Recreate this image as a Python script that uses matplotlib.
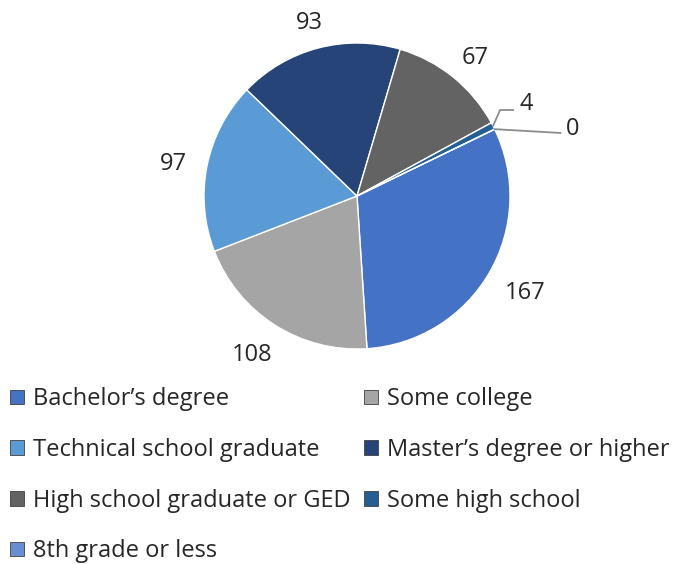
import numpy as np
import matplotlib.pyplot as plt

categories = ["Bachelor\u2019s degree", "Some college", "Technical school graduate",
              "Master\u2019s degree or higher", "High school graduate or GED",
              "Some high school", "8th grade or less"]
counts = [167, 108, 97, 93, 67, 4, 0]
colors = ["#4472C4", "#A5A5A5", "#5B9BD5", "#264478", "#636363", "#255E91", "#698ED0"]

plt.rcParams['font.family'] = ['Open Sans', 'DejaVu Sans']

fig = plt.figure(figsize=(6.76, 5.64), dpi=100)
ax = fig.add_axes([0, 0, 1, 1])

R = 153.0  # pie radius in pixels
cx, cy = 357.0, 196.0

wedges, _ = ax.pie(counts, colors=colors, startangle=25.9, counterclock=False,
                   radius=1.0, center=(0, 0),
                   wedgeprops=dict(edgecolor="white", linewidth=1.0))

ax.set_xlim(-cx / R, (676 - cx) / R)
ax.set_ylim(-(564 - cy) / R, cy / R)
ax.set_aspect("equal")
ax.axis("off")

lab_fs = 17
txt_col = "#262626"
# labels for the larger slices, "outside end"
gap = 0.14
for w, v in zip(wedges[:5], counts[:5]):
    mid = np.deg2rad((w.theta1 + w.theta2) / 2)
    ux, uy = np.cos(mid), np.sin(mid)
    half_w = 0.043 * len(str(v))
    half_h = 0.06
    ax.text(ux * (1 + gap) + ux * half_w, uy * (1 + gap) + uy * half_h - 0.03, str(v),
            ha="center", va="center", fontsize=lab_fs, color=txt_col)

# small slices with leader lines
lc = "#8c8c8c"
w4 = wedges[5]
m4 = np.deg2rad((w4.theta1 + w4.theta2) / 2)
ax.plot([np.cos(m4), 0.935, 1.02], [np.sin(m4), 0.562, 0.562], color=lc, lw=1.3)
ax.text(1.105, 0.60, str(counts[5]), ha="center", va="center", fontsize=lab_fs, color=txt_col)

m0 = np.deg2rad(wedges[6].theta1)
ax.plot([np.cos(m0), 1.33], [np.sin(m0), 0.412], color=lc, lw=1.3)
ax.text(1.412, 0.44, str(counts[6]), ha="center", va="center", fontsize=lab_fs, color=txt_col)

order = [0, 2, 4, 6, 1, 3, 5]
leg = ax.legend([wedges[i] for i in order], [categories[i] for i in order],
                ncol=2, loc="upper left", bbox_to_anchor=(0.001, 0.330),
                bbox_transform=fig.transFigure, frameon=False,
                fontsize=17, handlelength=0.58, handleheight=0.58,
                handletextpad=0.38, labelspacing=1.13, columnspacing=0.58,
                borderaxespad=0.0, labelcolor=txt_col)
for h in leg.legend_handles:
    h.set_edgecolor("#404040")
    h.set_linewidth(0.6)

fig.savefig("out.png", dpi=100)
